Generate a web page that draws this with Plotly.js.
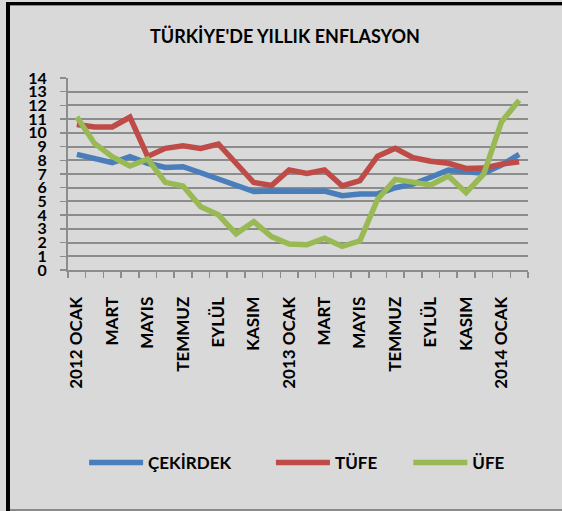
<!DOCTYPE html>
<html>
<head>
<meta charset="utf-8">
<script src="https://cdn.plot.ly/plotly-3.0.1.min.js"></script>
<style>
html,body{margin:0;padding:0;background:#d9d9d9;}
#wrap{position:relative;width:562px;height:511px;overflow:hidden;}
#chart{position:absolute;left:0;top:0;width:562px;height:511px;}
.bl{position:absolute;left:6px;top:2px;width:4px;height:509px;background:#000;}
.bt{position:absolute;left:6px;top:2px;width:556px;height:3px;background:#000;}
.bt2{position:absolute;left:10px;top:5px;width:552px;height:1px;background:#8a8a8a;}
.bb{position:absolute;left:10px;top:509px;width:552px;height:2px;background:#8a8a8a;}
</style>
</head>
<body>
<div id="wrap">
<div id="chart"></div>
<div class="bl"></div><div class="bt"></div><div class="bt2"></div><div class="bb"></div>
</div>
<script>
const months = ['2012 OCAK','ŞUBAT','MART','NİSAN','MAYIS','HAZİRAN','TEMMUZ','AĞUSTOS','EYLÜL','EKİM','KASIM','ARALIK',
  '2013 OCAK','ŞUBAT','MART','NİSAN','MAYIS','HAZİRAN','TEMMUZ','AĞUSTOS','EYLÜL','EKİM','KASIM','ARALIK',
  '2014 OCAK','ŞUBAT'];
const cekirdek = [8.43,8.14,7.82,8.26,7.78,7.48,7.53,7.09,6.61,6.13,5.72,5.76,5.72,5.74,5.76,5.42,5.55,5.55,6.00,6.27,6.76,7.29,7.17,7.05,7.65,8.43];
const tufe = [10.61,10.43,10.43,11.14,8.28,8.87,9.05,8.87,9.19,7.80,6.38,6.16,7.30,7.04,7.29,6.13,6.51,8.30,8.87,8.19,7.93,7.78,7.40,7.43,7.72,7.90];
const ufe = [11.16,9.23,8.26,7.58,8.09,6.39,6.13,4.62,4.02,2.64,3.53,2.44,1.89,1.84,2.32,1.72,2.13,5.16,6.61,6.37,6.20,6.85,5.64,7.00,10.80,12.38];
const seriesNames = ['ÇEKİRDEK','TÜFE','ÜFE'];
const seriesColors = ['#4a7ebb','#be4b48','#98b954'];
const yTicks = [0,1,2,3,4,5,6,7,8,9,10,11,12,13,14];

const xIdx = months.map((_, i) => i);
const tickIdx = xIdx.filter(i => i % 2 === 0);
const tickText = tickIdx.map(i => months[i]);
const boundaries = months.map((_, i) => i - 0.5).concat([months.length - 0.5]);

const FONT = 'Lato, "Open Sans", sans-serif';
const NB = '\u00a0';
const legendPad = [NB.repeat(8), NB.repeat(6), ''];
const data = [cekirdek, tufe, ufe].map((vals, k) => ({
  type: 'scatter', mode: 'lines', x: xIdx, y: vals, name: '<b>' + seriesNames[k] + '</b>' + legendPad[k],
  line: {color: seriesColors[k], width: 5.5, shape: 'linear'},
  hoverinfo: 'skip'
}));

const layout = {
  width: 562, height: 511,
  margin: {l: 68, r: 34, t: 78, b: 241, pad: 0},
  paper_bgcolor: '#d9d9d9', plot_bgcolor: '#d9d9d9',
  font: {family: FONT, color: '#000', size: 15},
  title: {text: "<b>TÜRKİYE'DE YILLIK ENFLASYON</b>", x: 0.507, xanchor: 'center', y: 0.928, yanchor: 'middle',
    font: {family: FONT, size: 18, color: '#000'}},
  showlegend: true,
  legend: {orientation: 'h', x: 0.035, xanchor: 'left', y: -1.005, yanchor: 'middle',
    font: {family: FONT, size: 17, color: '#000'}, itemwidth: 54, bgcolor: 'rgba(0,0,0,0)', traceorder: 'normal'},
  xaxis: {
    range: [-0.5, months.length - 0.5], fixedrange: true,
    tickmode: 'array', tickvals: tickIdx, ticktext: tickText.map(t => '<b>' + t + '</b>'),
    tickangle: -90, tickfont: {family: FONT, size: 17, color: '#000'},
    ticks: '', ticklabelstandoff: 18,
    showgrid: false, zeroline: false, showline: true, linecolor: '#8c8c8c', linewidth: 2,
    minor: {tickmode: 'array', tickvals: boundaries, ticks: 'outside', ticklen: 6, tickwidth: 1.5, tickcolor: '#8c8c8c', showgrid: false}
  },
  yaxis: {
    range: [0, 14], fixedrange: true,
    tickmode: 'array', tickvals: yTicks, ticktext: yTicks.map(v => '<b>' + v + '</b>'),
    tickfont: {family: FONT, size: 16, color: '#000'},
    ticks: 'outside', ticklen: 6, tickwidth: 1.5, tickcolor: '#8c8c8c', ticklabelstandoff: 10,
    showgrid: true, gridcolor: '#8c8c8c', gridwidth: 2,
    zeroline: false, showline: true, linecolor: '#8c8c8c', linewidth: 2
  }
};

Plotly.newPlot('chart', data, layout, {displayModeBar: false, staticPlot: true});
</script>
</body>
</html>
